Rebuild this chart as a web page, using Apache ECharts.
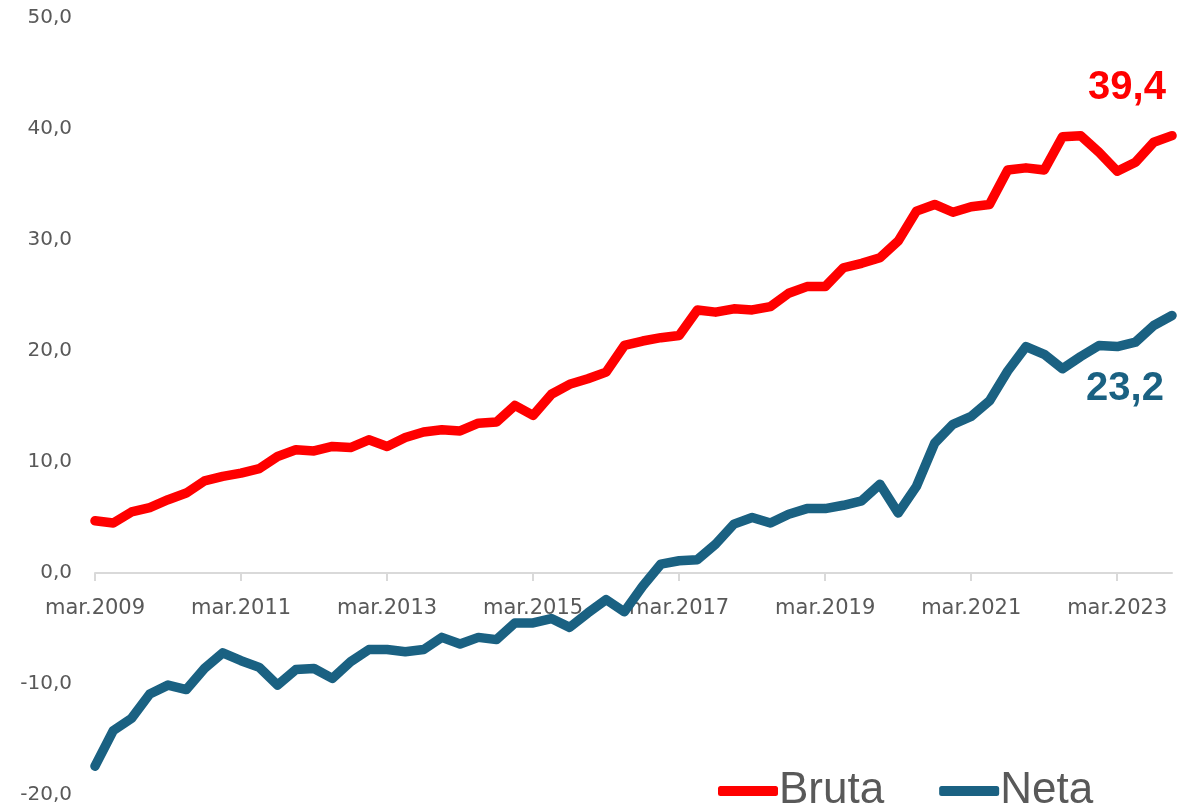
<!DOCTYPE html>
<html>
<head>
<meta charset="utf-8">
<script src="https://cdn.jsdelivr.net/npm/echarts@6/dist/echarts.min.js"></script>
<style>
  html, body { margin: 0; padding: 0; background: #fff; }
  #chart { width: 1202px; height: 809px; }
</style>
</head>
<body>
<div id="chart"></div>
<script>
// trimestres, mar.2009 .. dic.2023
var categories = [
  'mar.2009', 'jun.2009', 'sep.2009', 'dic.2009',
  'mar.2010', 'jun.2010', 'sep.2010', 'dic.2010',
  'mar.2011', 'jun.2011', 'sep.2011', 'dic.2011',
  'mar.2012', 'jun.2012', 'sep.2012', 'dic.2012',
  'mar.2013', 'jun.2013', 'sep.2013', 'dic.2013',
  'mar.2014', 'jun.2014', 'sep.2014', 'dic.2014',
  'mar.2015', 'jun.2015', 'sep.2015', 'dic.2015',
  'mar.2016', 'jun.2016', 'sep.2016', 'dic.2016',
  'mar.2017', 'jun.2017', 'sep.2017', 'dic.2017',
  'mar.2018', 'jun.2018', 'sep.2018', 'dic.2018',
  'mar.2019', 'jun.2019', 'sep.2019', 'dic.2019',
  'mar.2020', 'jun.2020', 'sep.2020', 'dic.2020',
  'mar.2021', 'jun.2021', 'sep.2021', 'dic.2021',
  'mar.2022', 'jun.2022', 'sep.2022', 'dic.2022',
  'mar.2023', 'jun.2023', 'sep.2023', 'dic.2023'
];

var bruta = [
  4.7, 4.5, 5.5, 5.9, 6.6, 7.2, 8.3, 8.7, 9.0, 9.4,
  10.5, 11.1, 11.0, 11.4, 11.3, 12.0, 11.4, 12.2, 12.7, 12.9,
  12.8, 13.5, 13.6, 15.1, 14.2, 16.1, 17.0, 17.5, 18.1, 20.5,
  20.9, 21.2, 21.4, 23.7, 23.5, 23.8, 23.7, 24.0, 25.2, 25.8,
  25.8, 27.5, 27.9, 28.4, 29.9, 32.6, 33.2, 32.5, 33.0, 33.2,
  36.3, 36.5, 36.3, 39.3, 39.4, 37.9, 36.2, 37.0, 38.8, 39.4
];

var neta = [
  -17.4, -14.2, -13.1, -10.9, -10.1, -10.5, -8.6, -7.2, -7.9, -8.5,
  -10.1, -8.7, -8.6, -9.5, -8.0, -6.9, -6.9, -7.1, -6.9, -5.8,
  -6.4, -5.8, -6.0, -4.5, -4.5, -4.1, -4.9, -3.6, -2.4, -3.5,
  -1.2, 0.8, 1.1, 1.2, 2.6, 4.4, 5.0, 4.5, 5.3, 5.8,
  5.8, 6.1, 6.5, 8.0, 5.4, 7.8, 11.7, 13.4, 14.1, 15.5,
  18.2, 20.4, 19.7, 18.4, 19.5, 20.5, 20.4, 20.8, 22.3, 23.2
];

var yMin = -20, yMax = 50, yStep = 10;

function fmt(v) {
  return v.toFixed(1).replace('.', ',');
}

// solo el ultimo punto lleva etiqueta
function withEndLabel(values, labelOpt) {
  var out = [];
  for (var i = 0; i < values.length; i++) {
    if (i === values.length - 1) {
      out.push({ value: values[i], label: labelOpt });
    } else {
      out.push(values[i]);
    }
  }
  return out;
}

var W = 1202, H = 809;
var gTop = 18, gBottom = 14, gLeft = 95, gRight = 30;
// subir el eje x hasta el valor 0
var plotH = H - gTop - gBottom;
var zeroShift = -plotH * (0 - yMin) / (yMax - yMin);

var RED = '#ff0000';
var BLUE = '#1a6182';
var GREY = '#595959';

var chart = echarts.init(document.getElementById('chart'));
var option = {
  animation: false,
  backgroundColor: '#fff',
  grid: {
    left: gLeft,
    right: gRight,
    top: gTop,
    bottom: gBottom,
    containLabel: false,
    outerBoundsMode: 'none'
  },
  legend: {
    data: ['Bruta', 'Neta'],
    left: 713,
    top: 764,
    itemWidth: 60,
    itemHeight: 10,
    itemGap: 55,
    icon: 'roundRect',
    textStyle: {
      fontFamily: 'Liberation Sans',
      fontSize: 44,
      color: GREY,
      padding: [0, 0, 0, -4]
    }
  },
  xAxis: {
    type: 'category',
    boundaryGap: false,
    data: categories,
    offset: zeroShift,
    axisLine: { onZero: false, lineStyle: { color: '#d9d9d9', width: 2 } },
    axisTick: { interval: 7, length: 8, lineStyle: { color: '#d9d9d9', width: 2 } },
    axisLabel: {
      interval: 7,
      margin: 25,
      fontFamily: 'DejaVu Sans',
      fontSize: 21,
      color: GREY
    },
    splitLine: { show: false }
  },
  yAxis: {
    type: 'value',
    min: yMin,
    max: yMax,
    interval: yStep,
    axisLine: { show: false },
    axisTick: { show: false },
    splitLine: { show: false },
    axisLabel: {
      margin: 23,
      fontFamily: 'DejaVu Sans',
      fontSize: 20,
      color: GREY,
      formatter: fmt
    }
  },
  series: [
    {
      name: 'Bruta',
      type: 'line',
      symbol: 'circle',
      symbolSize: 1,
      lineStyle: { color: RED, width: 9.5, join: 'round', cap: 'round' },
      itemStyle: { color: RED },
      data: withEndLabel(bruta, {
        show: true,
        position: 'top',
        offset: [-45, -22],
        formatter: function (p) { return fmt(p.value); },
        fontFamily: 'Liberation Sans',
        fontWeight: 'bold',
        fontSize: 40,
        color: RED
      })
    },
    {
      name: 'Neta',
      type: 'line',
      symbol: 'circle',
      symbolSize: 1,
      lineStyle: { color: BLUE, width: 9.5, join: 'round', cap: 'round' },
      itemStyle: { color: BLUE },
      data: withEndLabel(neta, {
        show: true,
        position: 'bottom',
        offset: [-47, 48],
        formatter: function (p) { return fmt(p.value); },
        fontFamily: 'Liberation Sans',
        fontWeight: 'bold',
        fontSize: 40,
        color: BLUE
      })
    }
  ]
};
option && chart.setOption(option);
</script>
</body>
</html>
